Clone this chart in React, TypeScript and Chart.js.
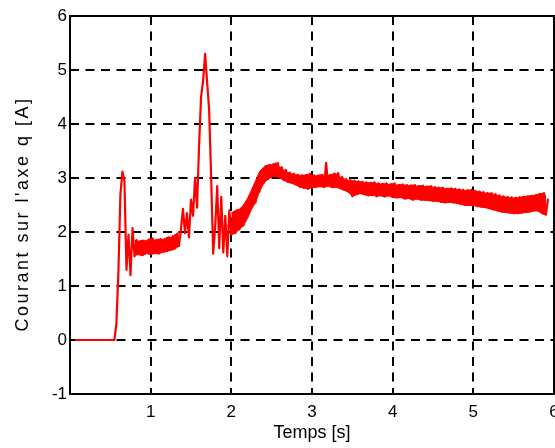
import React, { useEffect, useRef } from 'react';
import { Chart, registerables } from 'chart.js';

Chart.register(...registerables);

// Sampled current trace (A), sampling grid: start + i * step (s)
const traceStart = 0.075;
const traceStep = 0.025;
const traceValues = [
  // 0.075 .. 0.55
  0, 0, 0, 0, 0, 0, 0, 0, 0, 0, 0, 0, 0, 0, 0, 0, 0, 0, 0, 0,
  // 0.575 .. 0.8
  0.3, 1.25, 2.7, 3.12, 2.95, 1.3, 1.95, 1.2, 2.07, 1.55,
  // 0.825 .. 1.35
  1.85, 1.62, 1.82, 1.58, 1.8, 1.65, 1.86, 1.6, 1.88, 1.62, 1.84,
  1.6, 1.87, 1.66, 1.85, 1.65, 1.9, 1.68, 1.92, 1.7, 1.95, 1.74,
  // 1.375 .. 1.55
  2.05, 2.43, 1.98, 2.35, 1.9, 2.6, 2.3, 3.0,
  // 1.575 .. 1.975
  2.45, 3.6, 4.5, 4.8, 5.3, 4.77, 4.26, 3.0, 1.6, 2.1, 2.85, 1.7, 2.65, 1.62, 2.3, 1.55, 2.4,
  // 2.0 .. 2.575
  1.95, 2.35, 1.98, 2.4, 2.05, 2.42, 2.12, 2.5, 2.3, 2.65, 2.45, 2.8,
  2.55, 2.95, 2.75, 3.12, 2.9, 3.22, 2.98, 3.24, 3.03, 3.25, 3.04, 3.28,
  // 2.6 .. 2.825
  3.02, 3.2, 2.96, 3.15, 2.93, 3.1, 2.92, 3.08, 2.88, 3.06,
  // 2.85 .. 3.075
  2.84, 3.05, 2.82, 3.05, 2.8, 3.08, 2.82, 3.05, 2.84, 3.04,
  // 3.1 .. 3.325
  2.85, 3.06, 2.83, 3.28, 2.86, 3.05, 2.83, 3.08, 2.84, 3.09,
  // 3.35 .. 3.575
  2.82, 3.02, 2.78, 2.98, 2.75, 2.96, 2.66, 2.95, 2.7, 2.94,
  // 3.6 .. 3.825
  2.72, 2.93, 2.7, 2.92, 2.68, 2.9, 2.69, 2.92, 2.66, 2.9,
  // 3.85 .. 4.075
  2.68, 2.89, 2.66, 2.9, 2.68, 2.88, 2.65, 2.9, 2.64, 2.87,
  // 4.1 .. 4.325
  2.65, 2.88, 2.62, 2.87, 2.63, 2.86, 2.6, 2.87, 2.62, 2.85,
  // 4.35 .. 4.575
  2.6, 2.86, 2.6, 2.84, 2.59, 2.85, 2.58, 2.83, 2.58, 2.82,
  // 4.6 .. 4.825
  2.56, 2.82, 2.55, 2.8, 2.56, 2.81, 2.55, 2.8, 2.54, 2.79,
  // 4.85 .. 5.075
  2.52, 2.78, 2.5, 2.77, 2.5, 2.78, 2.5, 2.76, 2.48, 2.75,
  // 5.1 .. 5.325
  2.47, 2.74, 2.46, 2.72, 2.44, 2.72, 2.42, 2.7, 2.4, 2.68,
  // 5.35 .. 5.575
  2.38, 2.66, 2.37, 2.65, 2.36, 2.64, 2.35, 2.63, 2.35, 2.64,
  // 5.6 .. 5.825
  2.36, 2.65, 2.37, 2.66, 2.38, 2.67, 2.4, 2.68, 2.4, 2.7,
  // 5.85 .. 5.925
  2.35, 2.72, 2.32, 2.6,
];

// Noise envelope of the trace (min / max per 0.05 s bin), null where no steady band
const bandStart = 0.8;
const bandStep = 0.05;
const bandLow = [
  // 0.8 .. 1.35
  1.57, 1.58, 1.56, 1.6, 1.58, 1.6, 1.6, 1.62, 1.64, 1.66, 1.68, 1.74,
  // 1.4 .. 1.95
  null, null, null, null, null, null, null, null, null, null, null, null,
  // 2.0 .. 2.45
  1.95, 1.98, 2.05, 2.12, 2.25, 2.42, 2.55, 2.75, 2.9, 2.97,
  // 2.5 .. 2.95
  3.02, 3.03, 3.0, 2.96, 2.92, 2.9, 2.87, 2.83, 2.81, 2.8,
  // 3.0 .. 3.45
  2.82, 2.83, 2.84, 2.83, 2.85, 2.82, 2.83, 2.8, 2.77, 2.74,
  // 3.5 .. 3.95
  2.66, 2.69, 2.71, 2.69, 2.67, 2.68, 2.66, 2.67, 2.65, 2.67,
  // 4.0 .. 4.45
  2.64, 2.63, 2.64, 2.61, 2.62, 2.59, 2.61, 2.59, 2.59, 2.58,
  // 4.5 .. 4.95
  2.57, 2.57, 2.55, 2.54, 2.55, 2.54, 2.53, 2.51, 2.49, 2.49,
  // 5.0 .. 5.45
  2.49, 2.47, 2.46, 2.45, 2.43, 2.41, 2.39, 2.37, 2.36, 2.35,
  // 5.5 .. 5.9
  2.34, 2.34, 2.35, 2.36, 2.37, 2.39, 2.39, 2.34, 2.31,
];
const bandHigh = [
  // 0.8 .. 1.35
  1.85, 1.83, 1.85, 1.84, 1.88, 1.85, 1.87, 1.86, 1.9, 1.9, 1.95, 2.0,
  // 1.4 .. 1.95
  null, null, null, null, null, null, null, null, null, null, null, null,
  // 2.0 .. 2.45
  2.35, 2.4, 2.42, 2.5, 2.62, 2.78, 2.95, 3.12, 3.2, 3.24,
  // 2.5 .. 2.95
  3.25, 3.28, 3.2, 3.15, 3.1, 3.08, 3.06, 3.05, 3.05, 3.07,
  // 3.0 .. 3.45
  3.05, 3.04, 3.06, 3.05, 3.05, 3.07, 3.08, 3.02, 2.98, 2.96,
  // 3.5 .. 3.95
  2.95, 2.94, 2.93, 2.92, 2.91, 2.92, 2.9, 2.89, 2.9, 2.88,
  // 4.0 .. 4.45
  2.9, 2.87, 2.88, 2.87, 2.86, 2.87, 2.85, 2.86, 2.84, 2.85,
  // 4.5 .. 4.95
  2.83, 2.82, 2.82, 2.8, 2.81, 2.8, 2.79, 2.78, 2.77, 2.78,
  // 5.0 .. 5.45
  2.76, 2.75, 2.74, 2.72, 2.72, 2.7, 2.68, 2.66, 2.65, 2.64,
  // 5.5 .. 5.9
  2.63, 2.64, 2.65, 2.66, 2.67, 2.68, 2.7, 2.72, 2.68,
];

const xTicks = [0, 1, 2, 3, 4, 5, 6];
const xTickLabels = ['', '1', '2', '3', '4', '5', '6'];
const yTicks = [-1, 0, 1, 2, 3, 4, 5, 6];
const yTickLabels = ['-1', '0', '1', '2', '3', '4', '5', '6'];
const xTitle = 'Temps [s]';
const yTitle = "Courant sur l'axe q [A]";

const FONT = "'Liberation Sans', Arial, sans-serif";
const RED = '#ff0000';

export default function App() {
  const ref = useRef<HTMLCanvasElement>(null);

  useEffect(() => {
    if (!ref.current) return;
    const trace = traceValues.map((v, i) => ({ x: traceStart + i * traceStep, y: v }));
    const low = bandLow.map((v, i) => ({ x: bandStart + i * bandStep, y: v }));
    const high = bandHigh.map((v, i) => ({ x: bandStart + i * bandStep, y: v }));

    const boxPlugin = {
      id: 'box',
      afterDraw(chart: any) {
        const { ctx, chartArea: a } = chart;
        ctx.save();
        ctx.strokeStyle = '#000';
        ctx.lineWidth = 2;
        ctx.strokeRect(a.left, a.top, a.right - a.left, a.bottom - a.top);
        ctx.restore();
      },
    };

    const spacingPlugin = {
      id: 'yTitleSpacing',
      beforeDraw(chart: any) {
        const s: any = chart.scales.y;
        if (s && !s.__patched) {
          const orig = s.drawTitle.bind(s);
          s.drawTitle = (...args: any[]) => {
            const ctx = chart.ctx;
            ctx.save();
            (ctx as any).letterSpacing = '2.5px';
            ctx.translate(0, 9);
            orig(...args);
            ctx.restore();
          };
          s.__patched = true;
        }
      },
    };

    const chart = new Chart(ref.current, {
      type: 'line',
      data: {
        datasets: [
          {
            data: low,
            borderColor: RED,
            borderWidth: 1,
            pointRadius: 0,
            tension: 0,
            spanGaps: false,
            fill: false,
          },
          {
            data: high,
            borderColor: RED,
            backgroundColor: RED,
            borderWidth: 1,
            pointRadius: 0,
            tension: 0,
            spanGaps: false,
            fill: '-1',
          },
          {
            data: trace,
            borderColor: RED,
            borderWidth: 2.2,
            borderJoinStyle: 'round',
            borderCapStyle: 'round',
            pointRadius: 0,
            tension: 0,
            fill: false,
          },
        ],
      },
      options: {
        responsive: false,
        animation: false,
        layout: { padding: { top: 16, right: 1, bottom: 0, left: 0 } },
        plugins: {
          legend: { display: false },
          tooltip: { enabled: false },
          filler: { propagate: false },
        },
        scales: {
          x: {
            type: 'linear',
            min: 0,
            max: 6,
            z: 1,
            afterBuildTicks: (s: any) => {
              s.ticks = xTicks.map((v) => ({ value: v }));
            },
            afterFit: (s: any) => {
              s.height = 54;
              s.paddingLeft = 0;
              s.paddingRight = 0;
            },
            ticks: {
              autoSkip: false,
              maxRotation: 0,
              padding: 8,
              color: '#000',
              font: { family: FONT, size: 17 },
              callback: (_v: any, i: number) => xTickLabels[i],
            },
            grid: { color: '#000', lineWidth: 2, drawTicks: false },
            border: { display: false, dash: [9, 6.5] },
            title: {
              display: true,
              text: xTitle,
              color: '#000',
              font: { family: FONT, size: 18 },
              padding: { top: 0, bottom: 4 },
            },
          },
          y: {
            type: 'linear',
            min: -1,
            max: 6,
            z: 1,
            afterBuildTicks: (s: any) => {
              s.ticks = yTicks.map((v) => ({ value: v }));
            },
            afterFit: (s: any) => {
              s.width = 70;
              s.paddingTop = 0;
              s.paddingBottom = 0;
            },
            ticks: {
              autoSkip: false,
              padding: 3,
              color: '#000',
              font: { family: FONT, size: 17 },
              callback: (_v: any, i: number) => yTickLabels[i],
            },
            grid: { color: '#000', lineWidth: 2, drawTicks: false },
            border: { display: false, dash: [9, 6.5] },
            title: {
              display: true,
              text: yTitle,
              color: '#000',
              font: { family: FONT, size: 18 },
              padding: { top: 12, bottom: 0 },
            },
          },
        },
      },
      plugins: [boxPlugin, spacingPlugin],
    } as any);

    return () => chart.destroy();
  }, []);

  return (
    <div style={{ position: 'fixed', left: 0, top: 0, width: 555, height: 448, background: '#fff' }}>
      <canvas ref={ref} width={555} height={448} style={{ display: 'block' }} />
    </div>
  );
}
